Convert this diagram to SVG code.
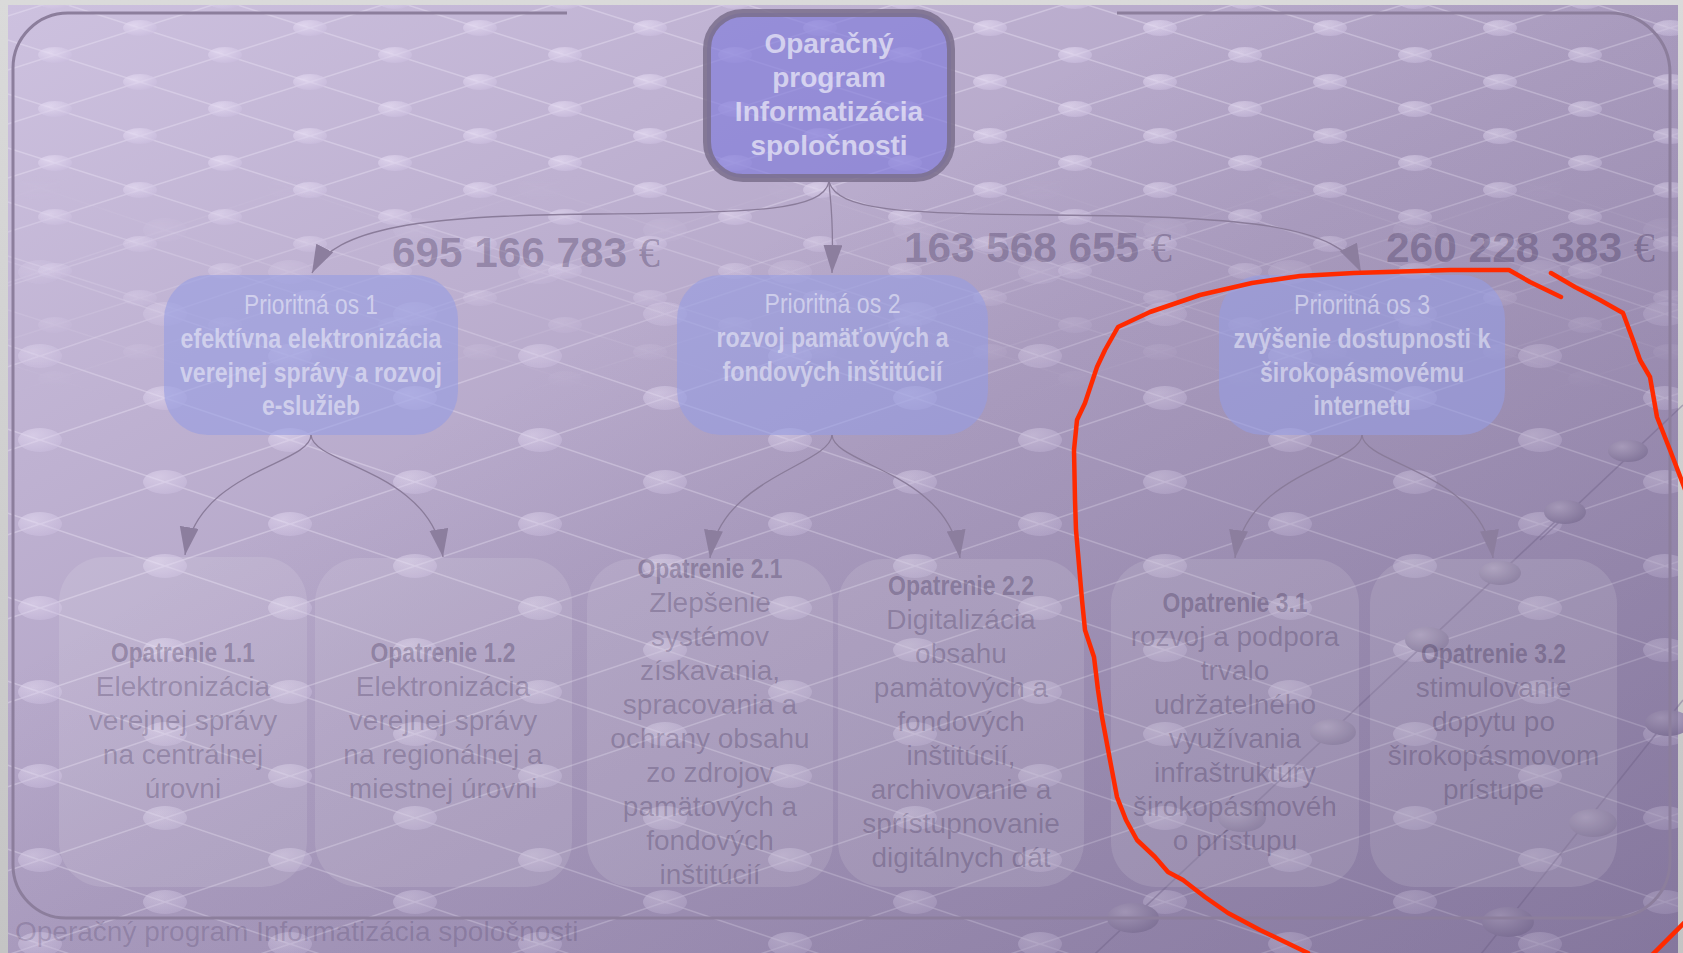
<svg xmlns="http://www.w3.org/2000/svg" width="1683" height="953" viewBox="0 0 1683 953">
<defs>
<style>
.t0{font-family:"Liberation Sans",Arial,sans-serif;font-weight:bold;font-size:28px;fill:#ffffff;fill-opacity:0.6;text-anchor:middle}
.t2{font-family:"Liberation Sans Narrow","Liberation Sans",Arial,sans-serif;font-size:28px;fill:#ffffff;fill-opacity:0.48;text-anchor:middle}
.b{font-weight:bold}
.t3h{font-family:"Liberation Sans Narrow","Liberation Sans",Arial,sans-serif;font-weight:bold;font-size:28px;fill:#1e0e36;fill-opacity:0.27;text-anchor:middle}
.t3{font-family:"Liberation Sans",Arial,sans-serif;font-size:28px;fill:#1e0e36;fill-opacity:0.23;text-anchor:middle}
.amt{font-family:"Liberation Sans",Arial,sans-serif;font-weight:bold;font-size:42px;fill:#1e0e36;fill-opacity:0.27}
.eur{font-family:"Liberation Serif","Times New Roman",serif;font-weight:normal}
.foot{font-family:"Liberation Sans",Arial,sans-serif;font-size:28px;fill:#1e0e36;fill-opacity:0.17}
.conn{fill:none;stroke:#8a7c9a;stroke-width:1.3;marker-end:url(#arr)}
.l2box{fill:#969ce2;fill-opacity:0.6}
.l3box{fill:#ffffff;fill-opacity:0.11}
.red{fill:none;stroke:#ff2a00;stroke-width:4.5;stroke-linecap:round;stroke-linejoin:round}
.nl{stroke:#ece4f6;stroke-opacity:0.4;stroke-width:1.6;fill:none}
.dl{stroke:#7c6e92;stroke-opacity:0.5;stroke-width:1.6;fill:none}
</style>
<linearGradient id="bg" x1="0" y1="0" x2="1" y2="1">
<stop offset="0" stop-color="#cdc1df"/>
<stop offset="0.5" stop-color="#b0a2c4"/>
<stop offset="1" stop-color="#a092b6"/>
</linearGradient>
<linearGradient id="shade" x1="0" y1="0" x2="1" y2="1">
<stop offset="0.35" stop-color="#5c4e78" stop-opacity="0"/>
<stop offset="1" stop-color="#5c4e78" stop-opacity="0.4"/>
</linearGradient>
<linearGradient id="grey" x1="0" y1="0" x2="0" y2="1">
<stop offset="0" stop-color="#dadada"/>
<stop offset="1" stop-color="#c4c4c4"/>
</linearGradient>
<radialGradient id="ball" cx="0.35" cy="0.3" r="0.75">
<stop offset="0" stop-color="#ebe2f7"/>
<stop offset="1" stop-color="#cbbedf"/>
</radialGradient>
<radialGradient id="ballD" cx="0.35" cy="0.3" r="0.75">
<stop offset="0" stop-color="#bcb0cc"/>
<stop offset="1" stop-color="#8d80a3"/>
</radialGradient>
<pattern id="netA" patternUnits="userSpaceOnUse" x="-30" y="28" width="170" height="54">
<path class="nl" d="M0,0 L170,54 M0,54 L170,0"/>
<g fill="url(#ball)" fill-opacity="0.62">
<ellipse cx="0" cy="0" rx="17" ry="8"/>
<ellipse cx="170" cy="0" rx="17" ry="8"/>
<ellipse cx="0" cy="54" rx="17" ry="8"/>
<ellipse cx="170" cy="54" rx="17" ry="8"/>
<ellipse cx="85" cy="27" rx="17" ry="8"/>
</g>
</pattern>
<pattern id="netB" patternUnits="userSpaceOnUse" x="40" y="20" width="250" height="84">
<path class="nl" d="M0,0 L250,84 M0,84 L250,0"/>
<g fill="url(#ball)" fill-opacity="0.5">
<ellipse cx="0" cy="0" rx="22" ry="12"/>
<ellipse cx="250" cy="0" rx="22" ry="12"/>
<ellipse cx="0" cy="84" rx="22" ry="12"/>
<ellipse cx="250" cy="84" rx="22" ry="12"/>
<ellipse cx="125" cy="42" rx="22" ry="12"/>
</g>
</pattern>
<linearGradient id="fadeA" gradientUnits="userSpaceOnUse" x1="0" y1="170" x2="0" y2="400">
<stop offset="0" stop-color="#fff"/>
<stop offset="1" stop-color="#000"/>
</linearGradient>
<linearGradient id="fadeB" gradientUnits="userSpaceOnUse" x1="0" y1="170" x2="0" y2="400">
<stop offset="0" stop-color="#000"/>
<stop offset="1" stop-color="#fff"/>
</linearGradient>
<mask id="mA" maskUnits="userSpaceOnUse" x="0" y="0" width="1683" height="953"><rect x="0" y="0" width="1683" height="953" fill="url(#fadeA)"/></mask>
<mask id="mB" maskUnits="userSpaceOnUse" x="0" y="0" width="1683" height="953"><rect x="0" y="0" width="1683" height="953" fill="url(#fadeB)"/></mask>
<marker id="arr" markerUnits="userSpaceOnUse" markerWidth="28" markerHeight="20" refX="28" refY="9.5" orient="auto">
<path d="M0,0 L28,9.5 L0,19 Z" fill="#8c7e9e"/>
</marker>
</defs>

<g id="background">
<rect x="0" y="0" width="1683" height="953" fill="url(#grey)"/>
<rect x="8" y="5" width="1670" height="948" fill="url(#bg)"/>
<rect x="8" y="5" width="1670" height="948" fill="url(#netA)" mask="url(#mA)"/>
<rect x="8" y="5" width="1670" height="948" fill="url(#netB)" mask="url(#mB)"/>
<g id="network-extra">
<path class="dl" d="M1080,968 L1560,517 M1470,968 L1683,700 M1540,540 L1683,405"/>
<g fill="url(#ballD)">
<ellipse cx="1133" cy="918" rx="26" ry="15"/>
<ellipse cx="1242" cy="818" rx="24" ry="14"/>
<ellipse cx="1333" cy="732" rx="23" ry="13"/>
<ellipse cx="1427" cy="640" rx="22" ry="13"/>
<ellipse cx="1500" cy="573" rx="21" ry="12"/>
<ellipse cx="1508" cy="922" rx="26" ry="15"/>
<ellipse cx="1593" cy="823" rx="24" ry="14"/>
<ellipse cx="1668" cy="723" rx="23" ry="13"/>
<ellipse cx="1565" cy="512" rx="21" ry="12"/>
<ellipse cx="1628" cy="451" rx="20" ry="11"/>
</g>
</g>
<rect x="8" y="5" width="1670" height="948" fill="url(#shade)"/>
</g>

<g id="frame">
<path d="M567,13 L68,13 A55,55 0 0 0 13,68 L13,865 A53,53 0 0 0 66,918 L1613,918 A57,57 0 0 0 1670,861 L1670,73 A60,60 0 0 0 1610,13 L1117,13" fill="none" stroke="#8c7e9c" stroke-width="3"/>
</g>

<g id="connectors">
<path class="conn" d="M829,182 C822,210 760,213 600,214 C420,215 335,228 312,273"/>
<path class="conn" d="M829,182 C830,200 834,215 832,273"/>
<path class="conn" d="M829,182 C838,210 900,214 1050,215 C1250,216 1338,226 1361,272"/>
<path class="conn" d="M311,435 C310,465 198,470 185,555"/>
<path class="conn" d="M311,435 C313,465 430,470 443,557"/>
<path class="conn" d="M832,435 C830,465 720,478 710,558"/>
<path class="conn" d="M832,435 C834,465 948,472 960,558"/>
<path class="conn" d="M1362,435 C1360,465 1246,472 1235,558"/>
<path class="conn" d="M1362,435 C1364,465 1482,472 1493,558"/>
</g>

<g id="node-top">
<rect x="707" y="13" width="244" height="165" rx="36" fill="#827cda" fill-opacity="0.68" stroke="#7a6e8c" stroke-opacity="0.85" stroke-width="8"/>
<text class="t0" x="829" y="53">Oparačný</text>
<text class="t0" x="829" y="87">program</text>
<text class="t0" x="829" y="121">Informatizácia</text>
<text class="t0" x="829" y="155">spoločnosti</text>
</g>

<g id="amount-1"><text class="amt" x="392" y="267" textLength="268" lengthAdjust="spacingAndGlyphs">695 166 783 <tspan class="eur">€</tspan></text></g>
<g id="amount-2"><text class="amt" x="904" y="262" textLength="268" lengthAdjust="spacingAndGlyphs">163 568 655 <tspan class="eur">€</tspan></text></g>
<g id="amount-3"><text class="amt" x="1386" y="262" textLength="269" lengthAdjust="spacingAndGlyphs">260 228 383 <tspan class="eur">€</tspan></text></g>

<g id="node-os1">
<rect class="l2box" x="164" y="275" width="294" height="160" rx="44"/>
<text class="t2" x="311" y="314" textLength="134" lengthAdjust="spacingAndGlyphs">Prioritná os 1</text>
<text class="t2 b" x="311" y="348" textLength="261" lengthAdjust="spacingAndGlyphs">efektívna elektronizácia</text>
<text class="t2 b" x="311" y="382" textLength="262" lengthAdjust="spacingAndGlyphs">verejnej správy a rozvoj</text>
<text class="t2 b" x="311" y="415" textLength="98" lengthAdjust="spacingAndGlyphs">e-služieb</text>
</g>
<g id="node-os2">
<rect class="l2box" x="677" y="275" width="311" height="160" rx="44"/>
<text class="t2" x="832.5" y="313" textLength="136" lengthAdjust="spacingAndGlyphs">Prioritná os 2</text>
<text class="t2 b" x="832.5" y="347" textLength="232" lengthAdjust="spacingAndGlyphs">rozvoj pamäťových a</text>
<text class="t2 b" x="832.5" y="381" textLength="220" lengthAdjust="spacingAndGlyphs">fondových inštitúcií</text>
</g>
<g id="node-os3">
<rect class="l2box" x="1219" y="275" width="286" height="160" rx="44"/>
<text class="t2" x="1362" y="314" textLength="136" lengthAdjust="spacingAndGlyphs">Prioritná os 3</text>
<text class="t2 b" x="1362" y="348" textLength="257" lengthAdjust="spacingAndGlyphs">zvýšenie dostupnosti k</text>
<text class="t2 b" x="1362" y="382" textLength="204" lengthAdjust="spacingAndGlyphs">širokopásmovému</text>
<text class="t2 b" x="1362" y="415" textLength="97" lengthAdjust="spacingAndGlyphs">internetu</text>
</g>

<g id="node-1-1">
<rect class="l3box" x="59" y="557" width="248" height="330" rx="45"/>
<text class="t3h" x="183" y="662" textLength="144" lengthAdjust="spacingAndGlyphs">Opatrenie 1.1</text>
<text class="t3" x="183" y="696">Elektronizácia</text>
<text class="t3" x="183" y="730">verejnej správy</text>
<text class="t3" x="183" y="764">na centrálnej</text>
<text class="t3" x="183" y="798">úrovni</text>
</g>
<g id="node-1-2">
<rect class="l3box" x="315" y="558" width="257" height="329" rx="45"/>
<text class="t3h" x="443" y="662" textLength="145" lengthAdjust="spacingAndGlyphs">Opatrenie 1.2</text>
<text class="t3" x="443" y="696">Elektronizácia</text>
<text class="t3" x="443" y="730">verejnej správy</text>
<text class="t3" x="443" y="764">na regionálnej a</text>
<text class="t3" x="443" y="798">miestnej úrovni</text>
</g>
<g id="node-2-1">
<rect class="l3box" x="587" y="559" width="246" height="328" rx="45"/>
<text class="t3h" x="710" y="578" textLength="145" lengthAdjust="spacingAndGlyphs">Opatrenie 2.1</text>
<text class="t3" x="710" y="612">Zlepšenie</text>
<text class="t3" x="710" y="646">systémov</text>
<text class="t3" x="710" y="680">získavania,</text>
<text class="t3" x="710" y="714">spracovania a</text>
<text class="t3" x="710" y="748">ochrany obsahu</text>
<text class="t3" x="710" y="782">zo zdrojov</text>
<text class="t3" x="710" y="816">pamätových a</text>
<text class="t3" x="710" y="850">fondových</text>
<text class="t3" x="710" y="884">inštitúcií</text>
</g>
<g id="node-2-2">
<rect class="l3box" x="838" y="559" width="246" height="328" rx="45"/>
<text class="t3h" x="961" y="595" textLength="146" lengthAdjust="spacingAndGlyphs">Opatrenie 2.2</text>
<text class="t3" x="961" y="629">Digitalizácia</text>
<text class="t3" x="961" y="663">obsahu</text>
<text class="t3" x="961" y="697">pamätových a</text>
<text class="t3" x="961" y="731">fondových</text>
<text class="t3" x="961" y="765">inštitúcií,</text>
<text class="t3" x="961" y="799">archivovanie a</text>
<text class="t3" x="961" y="833">sprístupnovanie</text>
<text class="t3" x="961" y="867">digitálnych dát</text>
</g>
<g id="node-3-1">
<rect class="l3box" x="1111" y="559" width="248" height="328" rx="45"/>
<text class="t3h" x="1235" y="612" textLength="145" lengthAdjust="spacingAndGlyphs">Opatrenie 3.1</text>
<text class="t3" x="1235" y="646">rozvoj a podpora</text>
<text class="t3" x="1235" y="680">trvalo</text>
<text class="t3" x="1235" y="714">udržatelného</text>
<text class="t3" x="1235" y="748">využívania</text>
<text class="t3" x="1235" y="782">infraštruktúry</text>
<text class="t3" x="1235" y="816">širokopásmovéh</text>
<text class="t3" x="1235" y="850">o prístupu</text>
</g>
<g id="node-3-2">
<rect class="l3box" x="1370" y="559" width="247" height="328" rx="45"/>
<text class="t3h" x="1493.5" y="663" textLength="145" lengthAdjust="spacingAndGlyphs">Opatrenie 3.2</text>
<text class="t3" x="1493.5" y="697">stimulovanie</text>
<text class="t3" x="1493.5" y="731">dopytu po</text>
<text class="t3" x="1493.5" y="765">širokopásmovom</text>
<text class="t3" x="1493.5" y="799">prístupe</text>
</g>

<g id="footer"><text class="foot" x="15" y="941">Operačný program Informatizácia spoločnosti</text></g>

<g id="annotation">
<path class="red" d="M1561,297 L1530,282 L1509,270 L1450,270 L1354,273 L1300,276 L1252,283 L1200,295 L1150,312 L1118,327 L1105,350 L1097,367 L1085,403 L1077,420 L1074,450 L1075,500 L1076,530 L1082,600 L1085,630 L1094,657 L1098,690 L1102,717 L1110,760 L1117,797 L1126,820 L1137,840 L1155,857 L1168,872 L1183,880 L1205,897 L1228,913 L1260,930 L1308,953"/>
<path class="red" d="M1551,273 L1575,287 L1600,300 L1623,313 L1633,340 L1640,360 L1650,377 L1657,417 L1670,450 L1686,492"/>
<path class="red" d="M1652,955 L1686,921"/>
</g>
</svg>
